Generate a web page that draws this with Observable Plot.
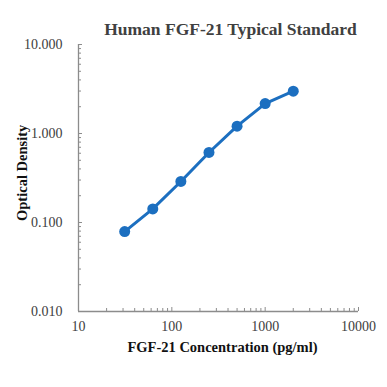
<!DOCTYPE html>
<html>
<head>
<meta charset="utf-8">
<script src="https://cdn.jsdelivr.net/npm/d3@7"></script>
<script src="https://cdn.jsdelivr.net/npm/@observablehq/plot@0.6"></script>
<style>
  html, body { margin: 0; padding: 0; background: #fff; }
  #chart { width: 387px; height: 387px; }
</style>
</head>
<body>
<div id="chart"></div>
<script>
const title = "Human FGF-21 Typical Standard";
const xTitle = "FGF-21 Concentration (pg/ml)";
const yTitle = "Optical Density";
const concentration = [31.25, 62.5, 125, 250, 500, 1000, 2000];
const od = [0.079, 0.142, 0.289, 0.612, 1.21, 2.17, 2.99];
const xMajorTicks = [10, 100, 1000, 10000];
const yMajorTicks = [0.01, 0.1, 1, 10];

const data = concentration.map((c, i) => ({x: c, y: od[i]}));
const minorTicks = (majors) => majors.slice(0, -1).flatMap(m => d3.range(2, 10).map(k => m * k));
const xMinor = minorTicks(xMajorTicks);
const yMinor = minorTicks(yMajorTicks);

const axisColor = "#8c8c8c";
const textColor = "#404040";
const blue = "#1c6fc0";
const serif = "'Liberation Serif', 'Times New Roman', serif";

const chart = Plot.plot({
  width: 387,
  height: 387,
  marginTop: 44,
  marginBottom: 76,
  marginLeft: 78,
  marginRight: 29,
  style: {fontFamily: serif, color: textColor, background: "#fff", overflow: "visible"},
  x: {type: "log", domain: [10, 10000], axis: null},
  y: {type: "log", domain: [0.01, 10], axis: null},
  marks: [
    Plot.ruleX([10], {stroke: axisColor, strokeWidth: 1.3}),
    Plot.ruleY([0.01], {stroke: axisColor, strokeWidth: 1.3}),
    Plot.axisY(yMinor, {anchor: "left", tickSize: -3, stroke: axisColor, tickFormat: () => "", label: null}),
    Plot.axisY(yMajorTicks, {anchor: "left", tickSize: -4, stroke: axisColor, tickFormat: d3.format(".3f"), tickPadding: 20, fontSize: 14, fill: textColor, label: null}),
    Plot.axisX(xMinor, {anchor: "bottom", tickSize: -3, stroke: axisColor, tickFormat: () => "", label: null}),
    Plot.axisX(xMajorTicks, {anchor: "bottom", tickSize: -4, stroke: axisColor, tickFormat: d => String(d), tickPadding: 14, fontSize: 14, fill: textColor, label: null}),
    Plot.line(data, {x: "x", y: "y", stroke: blue, strokeWidth: 3}),
    Plot.dot(data, {x: "x", y: "y", r: 5.5, fill: blue, stroke: "none"}),
    Plot.text([title], {frameAnchor: "top", dx: 12, dy: -22, fontSize: 17.5, fontWeight: "bold", fill: textColor}),
    Plot.text([xTitle], {frameAnchor: "bottom", dx: 4, dy: 40, fontSize: 14.5, fontWeight: "bold", fill: "#111"}),
    Plot.text([yTitle], {frameAnchor: "left", rotate: -90, dx: -56, dy: 43, fontSize: 14.5, fontWeight: "bold", fill: "#111"})
  ]
});
document.getElementById("chart").appendChild(chart);
</script>
</body>
</html>
